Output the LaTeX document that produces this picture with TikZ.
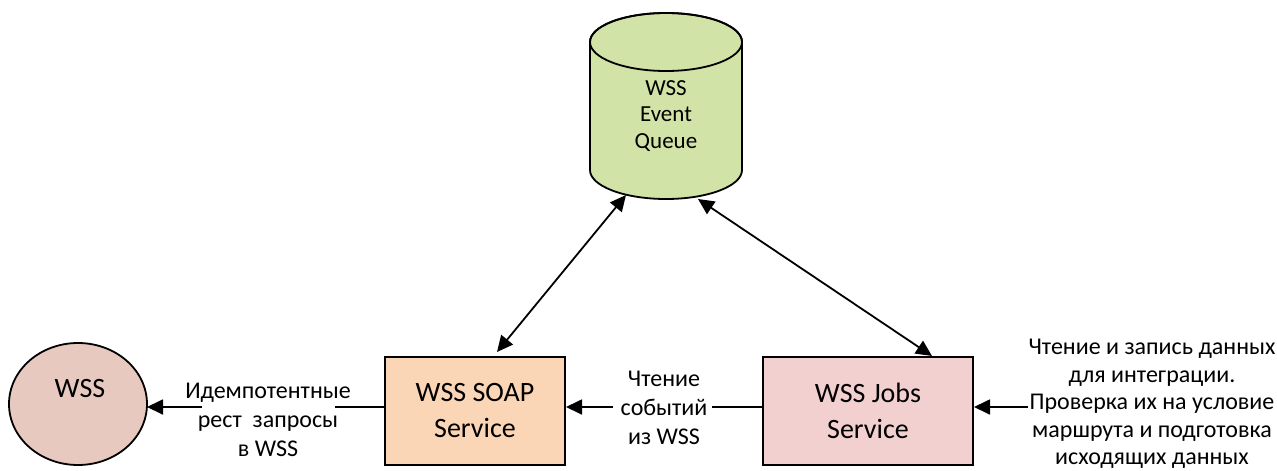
\documentclass[tikz,border=0pt]{standalone}
\usepackage{fontspec}
\setmainfont{Carlito}
\usetikzlibrary{arrows.meta}
\definecolor{wssfill}{RGB}{232,201,192}
\definecolor{soapfill}{RGB}{251,214,182}
\definecolor{jobsfill}{RGB}{243,208,208}
\definecolor{qfill}{RGB}{209,227,166}
\tikzset{
  box/.style={draw=black, line width=2pt, minimum width=180pt, minimum height=108pt, inner sep=0pt, align=center, font=\fontsize{28}{36}\selectfont},
  lbl/.style={inner sep=1pt, align=center, font=\fontsize{24}{29}\selectfont},
  conn/.style={line width=1.8pt, -{Triangle[length=16pt,width=15pt]}},
  dconn/.style={line width=1.8pt, {Triangle[length=16pt,width=15pt]}-{Triangle[length=16pt,width=15pt]}},
}
\begin{document}
\begin{tikzpicture}[x=1pt,y=-1pt]
\useasboundingbox (0,0) rectangle (1277,471);
% queue cylinder
\filldraw[fill=qfill, draw=black, line width=1.8pt] (590,42) -- (590,170) arc[start angle=180,end angle=0,x radius=76,y radius=29] -- (742,42) arc[start angle=0,end angle=-180,x radius=76,y radius=29] -- cycle;
\draw[line width=1.8pt] (666,42) ellipse [x radius=76, y radius=29];
\node[align=center, font=\fontsize{23}{26.5}\selectfont] (q) at (666,116) {WSS\\Event\\Queue};
\coordinate (qa) at (626,195);
\coordinate (qb) at (698,199);
% WSS ellipse
\filldraw[fill=wssfill, draw=black, line width=1.8pt] (78,404) ellipse [x radius=69, y radius=61];
\node[font=\fontsize{28}{34}\selectfont] (wsst) at (80,389) {WSS};
\coordinate (wssE) at (147,407);
% boxes
\node[box, fill=soapfill] (soap) at (475,411) {WSS SOAP\\Service};
\node[box, fill=jobsfill, minimum width=210pt] (jobs) at (868,411) {WSS Jobs\\Service};
% connectors
\draw[conn] (jobs.west |- 0,407) -- (soap.east |- 0,407);
\fill[white] (613,398) rectangle (712,416);
\node[lbl] (l1) at (664,408) {Чтение\\событий\\из WSS};
\draw[conn] (soap.west |- 0,407) -- (wssE);
\fill[white] (202,398) rectangle (335,416);
\node[lbl] (l2) at (268,420) {Идемпотентные\\рест\ \ запросы\\в WSS};
\coordinate (rin) at (1028,407);
\draw[conn] (rin) -- (jobs.east |- 0,407);
\node[align=center, font=\fontsize{24}{27.5}\selectfont] (l3) at (1152,404) {Чтение и запись данных\\для интеграции.\\Проверка их на условие\\маршрута и подготовка\\исходящих данных};
\draw[dconn] (qa) -- (497,352);
\draw[dconn] (qb) -- (932,356);
\end{tikzpicture}
\end{document}
